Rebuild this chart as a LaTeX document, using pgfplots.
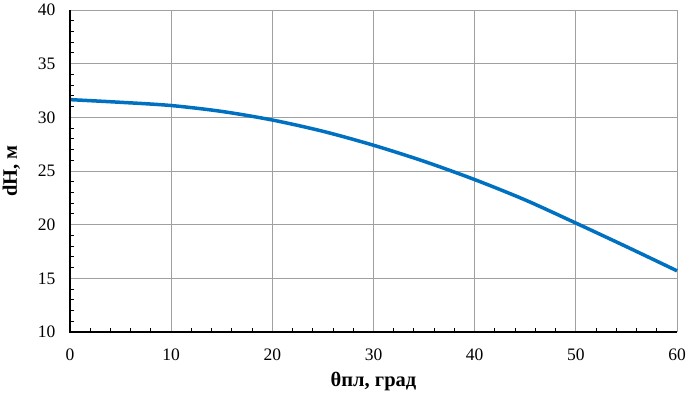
\documentclass[border=0pt]{standalone}
\usepackage{pgfplots}
\pgfplotsset{compat=1.18}
\usepackage{fontspec}
\setmainfont{Liberation Serif}
\definecolor{curve}{RGB}{0,112,192}
\definecolor{gridc}{RGB}{160,160,160}
\begin{document}
\begin{tikzpicture}
\begin{axis}[
  scale only axis,
  width=607bp, height=322bp,
  xmin=0, xmax=60, ymin=10, ymax=40,
  xtick={0,10,...,60}, ytick={10,15,...,40},
  minor x tick num=4, minor y tick num=4,
  major tick length=0pt,
  minor tick length=4bp,
  tick align=inside,
  xtick pos=bottom, ytick pos=left,
  grid=major,
  major grid style={gridc, line width=0.8bp},
  axis line style={draw=none},
  axis x line*=bottom, axis y line*=left,
  every tick/.style={black, line width=1bp},
  tick label style={font=\fontsize{17.5bp}{20bp}\selectfont},
  /pgf/number format/assume math mode=true,
  xlabel={\textbf{θпл, град}},
  ylabel={\textbf{dH, м}},
  label style={font=\fontsize{20.5bp}{24bp}\selectfont},
  xticklabel style={yshift=-13bp},
  yticklabel style={xshift=-11bp},
  xlabel style={yshift=-5bp},
  ylabel style={yshift=11bp},
  clip=false,
]
\addplot[curve, line width=3.5bp, smooth] coordinates {
(0,31.65) (5,31.4) (10,31.1) (15,30.55) (20,29.75) (25,28.7) (30,27.4) (35,25.9) (40,24.2) (45,22.3) (50,20.15) (55,17.95) (60,15.7)
};
\draw[black, line width=1.2bp] (axis cs:0,40) -- (axis cs:0,10) -- (axis cs:60,10);
\end{axis}
\pgfresetboundingbox
\useasboundingbox (-70bp,-65bp) rectangle (620bp,332bp);
\end{tikzpicture}
\end{document}
